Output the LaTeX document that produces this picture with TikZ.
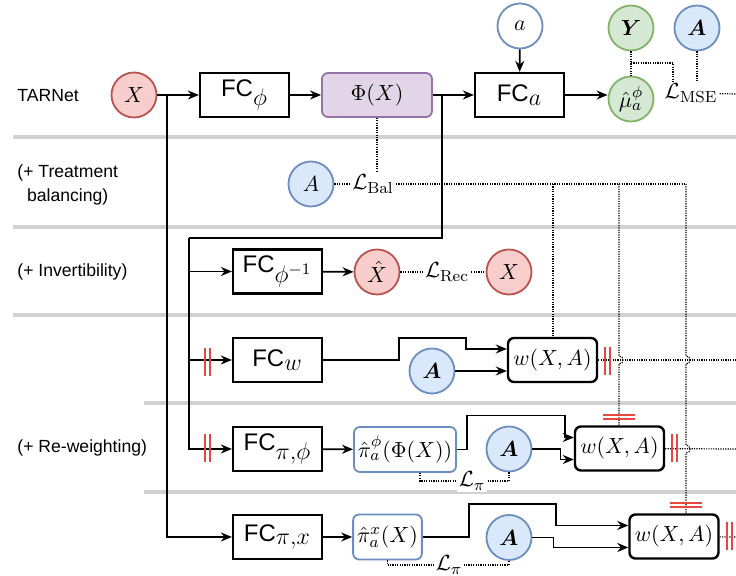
\documentclass[tikz,border=0pt]{standalone}
\usepackage{amsmath,amssymb}
\usepackage[no-math]{fontspec}
\setmainfont{Liberation Sans}
\usetikzlibrary{arrows.meta, positioning, calc}
\definecolor{bordeRojo}{HTML}{B85450}
\definecolor{fondoRojo}{HTML}{F8CECC}
\definecolor{bordeAzul}{HTML}{6C8EBF}
\definecolor{fondoAzul}{HTML}{DAE8FC}
\definecolor{bordeVerde}{HTML}{82B366}
\definecolor{fondoVerde}{HTML}{D5E8D4}
\definecolor{bordeMorado}{HTML}{9673A6}
\definecolor{fondoMorado}{HTML}{E1D5E7}
\definecolor{grisFila}{gray}{0.82}
\definecolor{rojoCorte}{HTML}{E5483C}

\begin{document}
\begin{tikzpicture}[
  x=0.5pt, y=-0.5pt,
  font=\fontsize{8.8}{12}\selectfont,
  mat/.style={font=\fontsize{11}{13}\selectfont},
  caja/.style={draw, line width=1.1pt, minimum width=44.5pt, minimum height=22pt,
               inner sep=1pt, font=\fontsize{12}{14}\selectfont},
  cajaW/.style={mat, draw, line width=1.2pt, rounded corners=3pt,
                minimum width=44.5pt, minimum height=22pt, inner sep=1pt},
  cajaPi/.style={mat, draw=bordeAzul, line width=0.9pt, rounded corners=3pt,
                 minimum height=22.5pt, inner sep=2pt},
  circulo/.style={mat, circle, line width=0.9pt, minimum size=22.5pt, inner sep=0pt},
  rojo/.style={circulo, draw=bordeRojo, fill=fondoRojo},
  azul/.style={circulo, draw=bordeAzul, fill=fondoAzul},
  verde/.style={circulo, draw=bordeVerde, fill=fondoVerde},
  flecha/.style={-{Stealth[length=5.5pt, width=4.5pt]}, line width=0.85pt},
  linea/.style={line width=0.85pt},
  perdida/.style={line width=0.6pt, dash pattern=on 0.6pt off 0.6pt},
  perdidaTxt/.style={mat, inner sep=1pt},
  fila/.style={draw=grisFila, line width=1.6pt},
  corte/.style={draw=rojoCorte, line width=0.8pt},
  corteV/.pic={\draw[corte] (-2.5,-14) -- (-2.5,14) (2.5,-14) -- (2.5,14);},
  corteH/.pic={\draw[corte] (-16,-2) -- (16,-2) (-16,2) -- (16,2);},
  rotulo/.style={anchor=west, inner sep=0pt, align=center}
]
\useasboundingbox (0,0) rectangle (736,576);

% Separadores entre filas
\draw[fila] (13,137) -- (736,137);
\draw[fila] (13,227) -- (736,227);
\draw[fila] (13,315) -- (736,315);
\draw[fila] (144,403) -- (736,403);
\draw[fila] (144,492) -- (736,492);

\node[rotulo] (tarnet) at (17,96) {TARNet};
\node[rotulo] (balTxt) at (17,185) {(+ Treatment\\balancing)};
\node[rotulo] (invTxt) at (17,272) {(+ Invertibility)};
\node[rotulo] (rewTxt) at (17,448) {(+ Re-weighting)};

% TARNet
\node[rojo] (x) at (134,95) {$X$};
\node[caja] (fcphi) at (244.5,95) {FC$_{\textstyle\phi}$};
\node[caja, draw=bordeMorado, fill=fondoMorado, line width=0.9pt, rounded corners=3pt,
      minimum width=55pt, font=\fontsize{11}{13}\selectfont] (phi) at (377,95) {$\Phi(X)$};
\node[caja] (fca) at (519.5,95) {FC$_{\textstyle a}$};
\node[circulo, draw=bordeAzul, fill=white] (a) at (520,26) {$a$};
\node[verde] (mu) at (631,99) {$\hat{\mu}_a^\phi$};
\node[verde] (y) at (631,28) {$\boldsymbol{Y}$};
\node[azul] (aTop) at (697,28) {$\boldsymbol{A}$};
\node[perdidaTxt] (lmse) at (691,93) {$\mathcal{L}_{\mathrm{MSE}}$};

\coordinate (bx) at (167,95);
\coordinate (bphi) at (442,95);
\coordinate (cInv) at (189,238);
\coordinate (jY) at (631,63);
\coordinate (finMse) at (736,94);

\draw[flecha] (x) -- (fcphi);
\draw[flecha] (fcphi) -- (phi);
\draw[flecha] (phi) -- (fca);
\draw[flecha] (a) -- (fca);
\draw[flecha] (fca) -- (fca -| mu.west);
\draw[perdida] (y) -- (mu);
\draw[perdida] (jY) -| ([xshift=-9pt]lmse.north);
\draw[perdida] (aTop) -- (aTop |- lmse.north);
\draw[perdida] (lmse) -- (finMse);

% Balanceo del tratamiento
\node[azul] (aBal) at (311,184) {$A$};
\node[perdidaTxt] (lbal) at (373,184) {$\mathcal{L}_{\mathrm{Bal}}$};
\coordinate (k1) at (553,184);
\coordinate (k2) at (619,184);
\coordinate (k3) at (686,184);
\draw[perdida] (aBal) -- (lbal);
\draw[perdida] (phi) -- (phi |- lbal.north);
\draw[perdida] (lbal) -- (k3);

% Invertibilidad
\node[caja] (fcinv) at (277.5,271.5) {FC$_{\textstyle\phi^{-1}}$};
\node[rojo] (xhat) at (377,272) {$\hat{X}$};
\node[perdidaTxt] (lrec) at (447,272) {$\mathcal{L}_{\mathrm{Rec}}$};
\node[rojo] (xRec) at (509,272) {$X$};
\draw[linea] (bphi) |- (cInv);
\draw[flecha] (cInv |- fcinv) -- (fcinv);
\draw[flecha] (fcinv) -- (xhat);
\draw[perdida] (xhat) -- (lrec);
\draw[perdida] (lrec) -- (xRec);

% Re-ponderacion: tres variantes
\node[caja] (fcw) at (277.5,360) {FC$_{\textstyle w}$};
\node[azul] (aW1) at (432,371) {$\boldsymbol{A}$};
\node[cajaW] (w1) at (552.5,360) {$w(X,A)$};

\node[caja] (fcpiphi) at (277.5,449) {FC$_{\textstyle\pi{,}\phi}$};
\node[cajaPi, minimum width=50pt] (piphi) at (405,449.5) {$\hat{\pi}_a^\phi(\Phi(X))$};
\node[azul] (aW2) at (509,449) {$\boldsymbol{A}$};
\node[cajaW] (w2) at (619.5,448.5) {$w(X,A)$};
\node[perdidaTxt, fill=white] (lpi1) at (472,481) {$\mathcal{L}_\pi$};

\node[caja] (fcpix) at (277.5,537) {FC$_{\textstyle\pi{,}x}$};
\node[cajaPi, minimum width=32.5pt] (pix) at (387.5,537) {$\hat{\pi}_a^x(X)$};
\node[azul] (aW3) at (509,537.5) {$\boldsymbol{A}$};
\node[cajaW] (w3) at (674,536.5) {$w(X,A)$};
\node[perdidaTxt, fill=white, inner sep=0.5pt] (lpi2) at (449,565) {$\mathcal{L}_\pi$};

\coordinate (finW1) at (736,360);
\coordinate (finW2) at (736,449);
\coordinate (finW3) at (736,537);

\draw[flecha] (cInv |- fcw) -- (fcw);
\draw[flecha] (cInv) |- (fcpiphi);
\draw[flecha] (bx) |- (fcpix);

\draw[flecha] (fcw.east) -- ++(76,0) -- ++(0,-22) -- ++(67,0) |- ([yshift=5.5pt]w1.west);
\draw[flecha] (aW1) -- (aW1 -| w1.west);

\draw[flecha] (fcpiphi) -- (piphi);
\draw[flecha] (piphi.east) -- ++(10,0) -- ++(0,-34) -- ++(98,0) |- ([yshift=5.5pt]w2.west);
\draw[flecha] (aW2.east) -- ++(28,0) |- ([yshift=-5.5pt]w2.west);
\draw[perdida] ([xshift=7.5pt]piphi.south) |- (lpi1);
\draw[perdida] (lpi1) -| (aW2);

\draw[flecha] (fcpix) -- (pix);
\draw[flecha] (pix.east) -- ++(46,0) -- ++(0,-33) -- ++(87,0) |- ([yshift=5.5pt]w3.west);
\draw[flecha] (aW3.east) -- ++(21,0) |- ([yshift=-5.5pt]w3.west);
\draw[perdida] (pix.south) |- (lpi2);
\draw[perdida] (lpi2) -| (aW3);

% Salidas de los pesos y bajadas de L_Bal (con saltos en los cruces)
\draw[perdida] (w1) -- (finW1);
\draw[perdida] (w2) -- (finW2);
\draw[perdida] (w3) -- (finW3);
\draw[perdida] (k1) -- (k1 |- w1.north);
\draw[perdida] (k2) -- (619,356) .. controls (624.3,356) and (624.3,364) .. (619,364)
  -- (k2 |- w2.north);
\draw[perdida] (k3) -- (686,356) .. controls (691.3,356) and (691.3,364) .. (686,364)
  -- (686,445) .. controls (691.3,445) and (691.3,453) .. (686,453)
  -- (k3 |- w3.north);

% Gradientes detenidos
\pic at (207.5,362) {corteV};
\pic at (207.5,448) {corteV};
\pic at (607.5,361) {corteV};
\pic at (674.5,448) {corteV};
\pic at (729.5,536) {corteV};
\pic at (619,417) {corteH};
\pic at (686,505) {corteH};

\end{tikzpicture}
\end{document}
